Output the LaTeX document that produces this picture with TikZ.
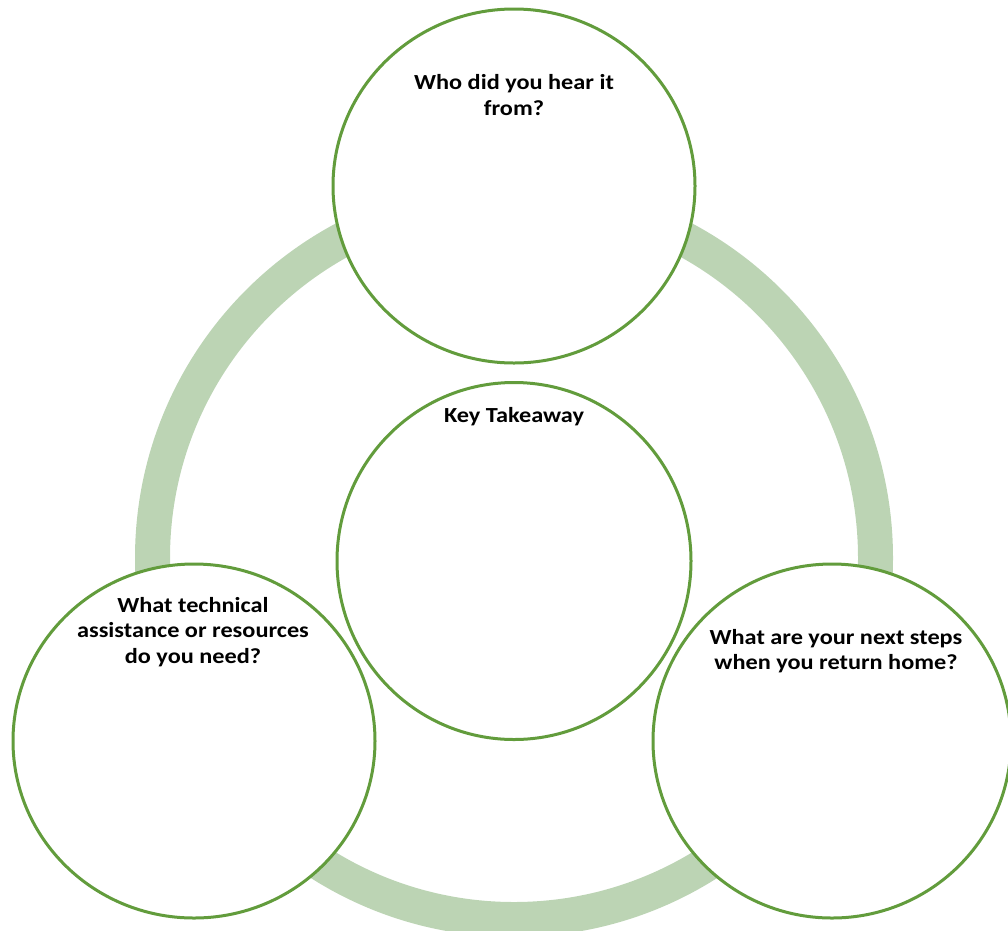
\documentclass[tikz,border=0pt]{standalone}
\usepackage{fontspec}
\setmainfont{Carlito}[FakeStretch=1.13]
\usetikzlibrary{shapes.geometric}
\definecolor{ringc}{HTML}{BCD4B4}
\definecolor{edgec}{HTML}{629C3C}
\begin{document}
\begin{tikzpicture}[x=1pt,y=-1pt,
  bubble/.style={ellipse, draw=edgec, line width=3pt, fill=white, inner sep=0pt},
  lbl/.style={font=\fontsize{21.5}{25.5}\selectfont\bfseries, align=center, inner sep=0pt, text=black}]
\useasboundingbox (0,0) rectangle (1008,930);
\draw[ringc, line width=35pt] (514,558) circle[radius=361.5];
\node[bubble, minimum width=362pt, minimum height=354pt] (top) at (514,186) {};
\node[bubble, minimum width=354pt, minimum height=357pt] (mid) at (514,561) {};
\node[bubble, minimum width=362pt, minimum height=354pt] (left) at (194,741) {};
\node[bubble, minimum width=358pt, minimum height=354pt] (right) at (832,741) {};
\node[lbl] (ttop) at (514,95) {Who did you hear it\\from?};
\node[lbl] (tmid) at (514,417) {Key Takeaway};
\node[lbl] (tleft) at (193,632) {What technical\\assistance or resources\\do you need?};
\node[lbl] (tright) at (836,651) {What are your next steps\\when you return home?};
\end{tikzpicture}
\end{document}
